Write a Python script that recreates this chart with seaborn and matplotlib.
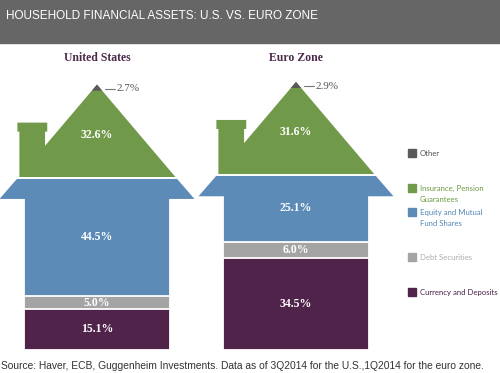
import numpy as np
import pandas as pd
import matplotlib.pyplot as plt
import seaborn as sns
from matplotlib.patches import Rectangle

# data
regions = ['United States', 'Euro Zone']
currency = [15.1, 34.5]
debt = [5.0, 6.0]
equity = [44.5, 25.1]
insurance = [32.6, 31.6]
other = [2.7, 2.9]

legend_labels = ['Other', 'Insurance, Pension\nGuarantees', 'Equity and Mutual\nFund Shares',
                 'Debt Securities', 'Currency and Deposits']

# colours
c_other = '#5a5a5a'
c_ins = '#71994a'
c_eq = '#5d8bb8'
c_debt = '#a4a4a4'
c_cur = '#50234b'

sns.set_theme(style='white')
W, H = 500, 373
fig = plt.figure(figsize=(5, 3.73), dpi=100)
ax = fig.add_axes([0, 0, 1, 1])

body = pd.DataFrame({'region': regions, 'currency': currency, 'debt': debt, 'equity': equity})
body['c1'] = body['currency']
body['c2'] = body['c1'] + body['debt']
body['c3'] = body['c2'] + body['equity']

# stacked body (drawn from total down)
for col, color in [('c3', c_eq), ('c2', c_debt), ('c1', c_cur)]:
    sns.barplot(data=body, x='region', y=col, color=color, width=0.73, saturation=1,
                edgecolor='white', linewidth=1.3, ax=ax)

# house shape constants (x in category units, y in percentage points)
hw = 0.397      # roof half width
rh = 35.0       # roof height
eave_h = 8.0
eave_hw = 0.49
label_y = body['c3'].max() + rh + 9

for i, row in body.iterrows():
    top = row['c3']
    # eave
    ax.fill([i - eave_hw, i + eave_hw, i + hw, i - hw],
            [top - eave_h, top - eave_h, top, top], color=c_eq, lw=0)
    # roof with chimney
    sx = -0.261
    sy = rh * (1 - abs(sx) / hw)
    xs = [-hw, hw, 0, sx, sx, -0.25, -0.25, -0.40, -0.40, -0.39, -0.39]
    ys = [0, 0, rh, sy, 17.3, 17.3, 20.7, 20.7, 17.3, 17.3, 0]
    ax.fill([i + x for x in xs], [top + y for y in ys], color=c_ins, lw=0)
    ax.plot([i - hw - 0.01, i + hw + 0.01], [top, top], color='white', lw=1.4)
    # other: tiny tip of roof
    oh = 2.3
    ax.fill([i - hw * oh / rh, i + hw * oh / rh, i],
            [top + rh - oh, top + rh - oh, top + rh], color=c_other, lw=0)

    lab = dict(ha='center', va='center', color='white', fontsize=8.5,
               fontweight='bold', family='Liberation Serif')
    ax.text(i, row['currency'] / 2, f"{row['currency']:.1f}%", **lab)
    ax.text(i, row['c1'] + row['debt'] / 2, f"{row['debt']:.1f}%", **lab)
    ax.text(i, row['c2'] + row['equity'] / 2, f"{row['equity']:.1f}%", **lab)
    ax.text(i, top + 16, f"{insurance[i]:.1f}%", **lab)
    ax.plot([i + 0.04, i + 0.09], [top + rh - 1.6, top + rh - 1.6], color='#777777', lw=0.8)
    ax.text(i + 0.1, top + rh - 1.6, f"{other[i]:.1f}%", ha='left', va='center',
            color='#555555', fontsize=8, family='Liberation Serif')
    ax.text(i, label_y, regions[i], ha='center', va='center', color='#4b2a4b',
            fontsize=8.5, fontweight='bold', family='Liberation Serif')

# map axes so 1 category unit ~ 199 px, 1 pct point ~ 2.66 px
ax.set_xlim(-97 / 199, (W - 97) / 199)
ax.set_ylim(-(H - 349.5) / 2.66, 349.5 / 2.66)
ax.axis('off')


def fx(px):
    return px / W


def fy(py):
    return 1 - py / H


# banner
fig.patches.append(Rectangle((0, fy(43)), 1, 43 / H, transform=fig.transFigure,
                             color='#666666', zorder=0))
fig.text(fx(6), fy(16), 'HOUSEHOLD FINANCIAL ASSETS: U.S. VS. EURO ZONE', color='white',
         fontsize=8.5, va='center', family='Liberation Sans')

# legend
leg_colors = [c_other, c_ins, c_eq, c_debt, c_cur]
leg_text_colors = ['#555555', '#6a9a3f', '#4f86b8', '#adadad', '#4a1e45']
leg_y = [153, 188, 212, 257, 292]
for lab, col, tcol, y in zip(legend_labels, leg_colors, leg_text_colors, leg_y):
    fig.patches.append(Rectangle((fx(408), fy(y + 4)), 8 / W, 8 / H,
                                 transform=fig.transFigure, color=col))
    for k, line in enumerate(lab.split('\n')):
        fig.text(fx(420), fy(y + 12 * k), line, color=tcol, fontsize=5.6,
                 va='center', family='Lato')

# source
fig.text(fx(1), fy(366), 'Source: Haver, ECB, Guggenheim Investments. Data as of 3Q2014 for the U.S.,'
         '1Q2014 for the euro zone.', color='#333333', fontsize=7.4, va='center',
         family='Liberation Sans')

fig.savefig('out.png', dpi=100)
